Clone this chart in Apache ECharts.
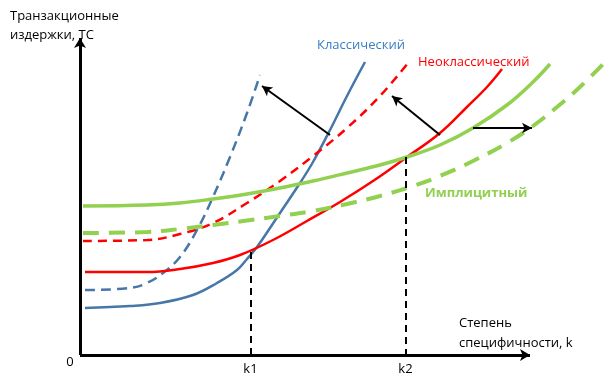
<!DOCTYPE html>
<html><head><meta charset="utf-8">
<script src="https://cdn.jsdelivr.net/npm/echarts@6/dist/echarts.min.js"></script>
<style>html,body{margin:0;padding:0;background:#fff}#c{width:607px;height:384px}</style>
</head><body><div id="c"></div>
<script>
// values: x = degree of specificity, y = transaction costs (arbitrary units)
const classicSolid = [[5,47],[50,49],[80,52],[113,60],[137,72],[157,85],[167,96],[177,108],[190,127],[200,142],[220,172],[233,193],[250,225],[267,259],[285,293]];
const classicDashed = [[5,65],[50,67],[67,72],[83,82],[100,98],[117,125],[133,158],[150,198],[167,242],[180,280]];
const neoSolid = [[5,83],[67,83],[100,86],[133,92],[160,100],[193,115],[227,134],[260,153],[293,174],[327,198],[360,222],[387,248],[407,268],[422,286]];
const neoDashed = [[3,114],[67,115],[100,121],[133,132],[167,152],[200,174],[233,199],[267,227],[300,259],[328,292]];
const implSolid = [[3,149],[67,150],[100,152],[133,156],[167,161],[200,167],[233,174],[267,182],[300,190],[327,198],[360,210],[393,227],[427,250],[453,273],[470,291]];
const implDashed = [[3,122],[67,123],[100,126],[133,130],[167,134.5],[200,139],[233,144],[267,151],[300,159],[333,169],[360,179],[393,194],[427,212],[453,229],[477,248],[500,268],[527,295]];
const shiftArrows = [[[250,220],[182,269]],[[360,220],[312,259]],[[393,227],[452,227]]];
const axisEnds = {x: 450, y: 317};
const xTickValues = [170.5, 325.5];
const xTickLabels = ['k1', 'k2'];
const guideTops = [103, 198];

const FONT = '"Open Sans", sans-serif';
const chart = echarts.init(document.getElementById('c'));
function line(data, color, width, dash) {
  return {type: 'line', data, smooth: 0.4, symbol: 'none', silent: true,
    lineStyle: {color, width, type: dash ? dash : 'solid', cap: 'butt'}, z: 3};
}
chart.setOption({
  animation: false,
  grid: {left: 80, right: 0, top: 0, bottom: 29},
  xAxis: {type: 'value', min: 0, max: 527, axisLine: {show: false}, axisTick: {show: false}, splitLine: {show: false},
    axisLabel: {customValues: xTickValues, formatter: v => xTickLabels[xTickValues.indexOf(v)] || '', margin: 8,
      color: '#000', fontSize: 13, fontFamily: FONT}},
  yAxis: {type: 'value', min: 0, max: 355, axisLine: {show: false}, axisTick: {show: false}, splitLine: {show: false},
    axisLabel: {show: false}},
  series: [
    line(classicDashed, '#4677a8', 2.5, [10, 6]),
    line(classicSolid, '#4677a8', 2.5),
    line(neoDashed, '#ff0000', 2.5, [9, 6]),
    line(neoSolid, '#ff0000', 2.5),
    line(implDashed, '#92d050', 4, [16, 10]),
    line(implSolid, '#92d050', 3.5),
    {type: 'line', data: [], silent: true, z: 5,
      markLine: {silent: true, symbol: ['none', 'arrow'], symbolSize: [8, 10], label: {show: false},
        lineStyle: {color: '#000', width: 2, type: 'solid'},
        data: shiftArrows.map(a => [{coord: a[0]}, {coord: a[1]}])}},
    {type: 'line', data: [], silent: true, z: 6,
      markLine: {silent: true, symbol: ['none', 'arrow'], symbolSize: [9, 10], label: {show: false},
        lineStyle: {color: '#000', width: 3, type: 'solid'},
        data: [[{coord: [0, 0]}, {coord: [axisEnds.x, 0]}], [{coord: [0, 0]}, {coord: [0, axisEnds.y]}]]}},
    {type: 'line', data: [], silent: true, z: 4,
      markLine: {silent: true, symbol: ['none', 'none'], label: {show: false},
        lineStyle: {color: '#000', width: 2, type: [7, 5]},
        data: xTickValues.map((v, i) => [{coord: [v, guideTops[i]]}, {coord: [v, 0]}])}}
  ],
  graphic: [
    {type: 'text', x: 10, y: 16, style: {text: 'Транзакционные', fill: '#000', font: '13px ' + FONT, verticalAlign: 'middle'}},
    {type: 'text', x: 10, y: 35, style: {text: 'издержки, ТС', fill: '#000', font: '13px ' + FONT, verticalAlign: 'middle'}},
    {type: 'text', x: 317, y: 45, style: {text: 'Классический', fill: '#3a7fc1', font: '13px ' + FONT, verticalAlign: 'middle'}},
    {type: 'text', x: 418, y: 62, style: {text: 'Неоклассический', fill: '#ff0000', font: '13px ' + FONT, verticalAlign: 'middle'}},
    {type: 'text', x: 425, y: 193, style: {text: 'Имплицитный', fill: '#92d050', font: 'bold 13px ' + FONT, verticalAlign: 'middle'}},
    {type: 'text', x: 459, y: 323, style: {text: 'Степень', fill: '#000', font: '13px ' + FONT, verticalAlign: 'middle'}},
    {type: 'text', x: 459, y: 343, style: {text: 'специфичности, k', fill: '#000', font: '13px ' + FONT, verticalAlign: 'middle'}},
    {type: 'text', x: 70, y: 362, style: {text: '0', fill: '#000', font: '13px ' + FONT, verticalAlign: 'middle', align: 'center'}}
  ]
});
</script></body></html>
